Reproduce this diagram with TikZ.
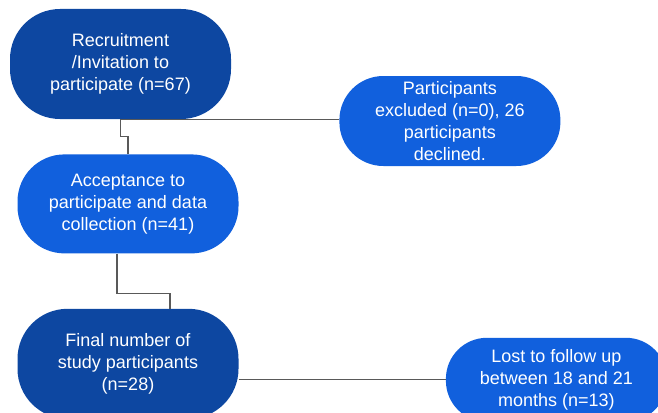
\documentclass[tikz,border=0pt]{standalone}
\usepackage{fontspec}
\setmainfont{Liberation Sans}
\definecolor{flowDark}{RGB}{13,71,161}
\definecolor{flowBright}{RGB}{17,96,221}
\definecolor{flowLine}{RGB}{89,89,89}
\usetikzlibrary{positioning}

\begin{document}
\begin{tikzpicture}[x=1pt, y=-1pt,
  pill/.style={rounded corners=#1, minimum width=221pt, inner sep=0pt,
               text=white, align=center, font=\fontsize{18}{22}\selectfont},
  pill/.default=44pt,
  link/.style={draw=flowLine, line width=1.3pt}
]
  \useasboundingbox (0,0) rectangle (658,412);

  \node[pill=50pt, fill=flowDark, minimum height=110pt] at (120.5,64) (recruit)
    {Recruitment\\/Invitation to\\participate (n=67)};
  \node[pill=44pt, fill=flowBright, minimum height=90pt, right=108pt of recruit, yshift=-57pt] (excluded)
    {Participants\\excluded (n=0), 26\\participants\\declined.};
  \node[pill=47pt, fill=flowBright, minimum height=99pt, below=35pt of recruit, xshift=7.5pt] (accept)
    {Acceptance to\\participate and data\\collection (n=41)};
  \node[pill=50pt, fill=flowDark, minimum height=110pt, below=55pt of accept] (final)
    {Final number of\\study participants\\(n=28)};
  \node[pill=41pt, fill=flowBright, minimum height=84pt, right=207pt of final, yshift=-16pt] (lost)
    {Lost to follow up\\between 18 and 21\\months (n=13)};

  \draw[link] (recruit.south) -- (recruit.south -| excluded.west);
  \draw[link] (recruit.south) -- ++(0,-17.5pt) -| (accept.north);
  \draw[link] ([xshift=-11pt]accept.south) -- ++(0,-40pt) -| ([xshift=42pt]final.north);
  \draw[link] ([yshift=-16pt]final.east) -- (lost.west);
\end{tikzpicture}
\end{document}
